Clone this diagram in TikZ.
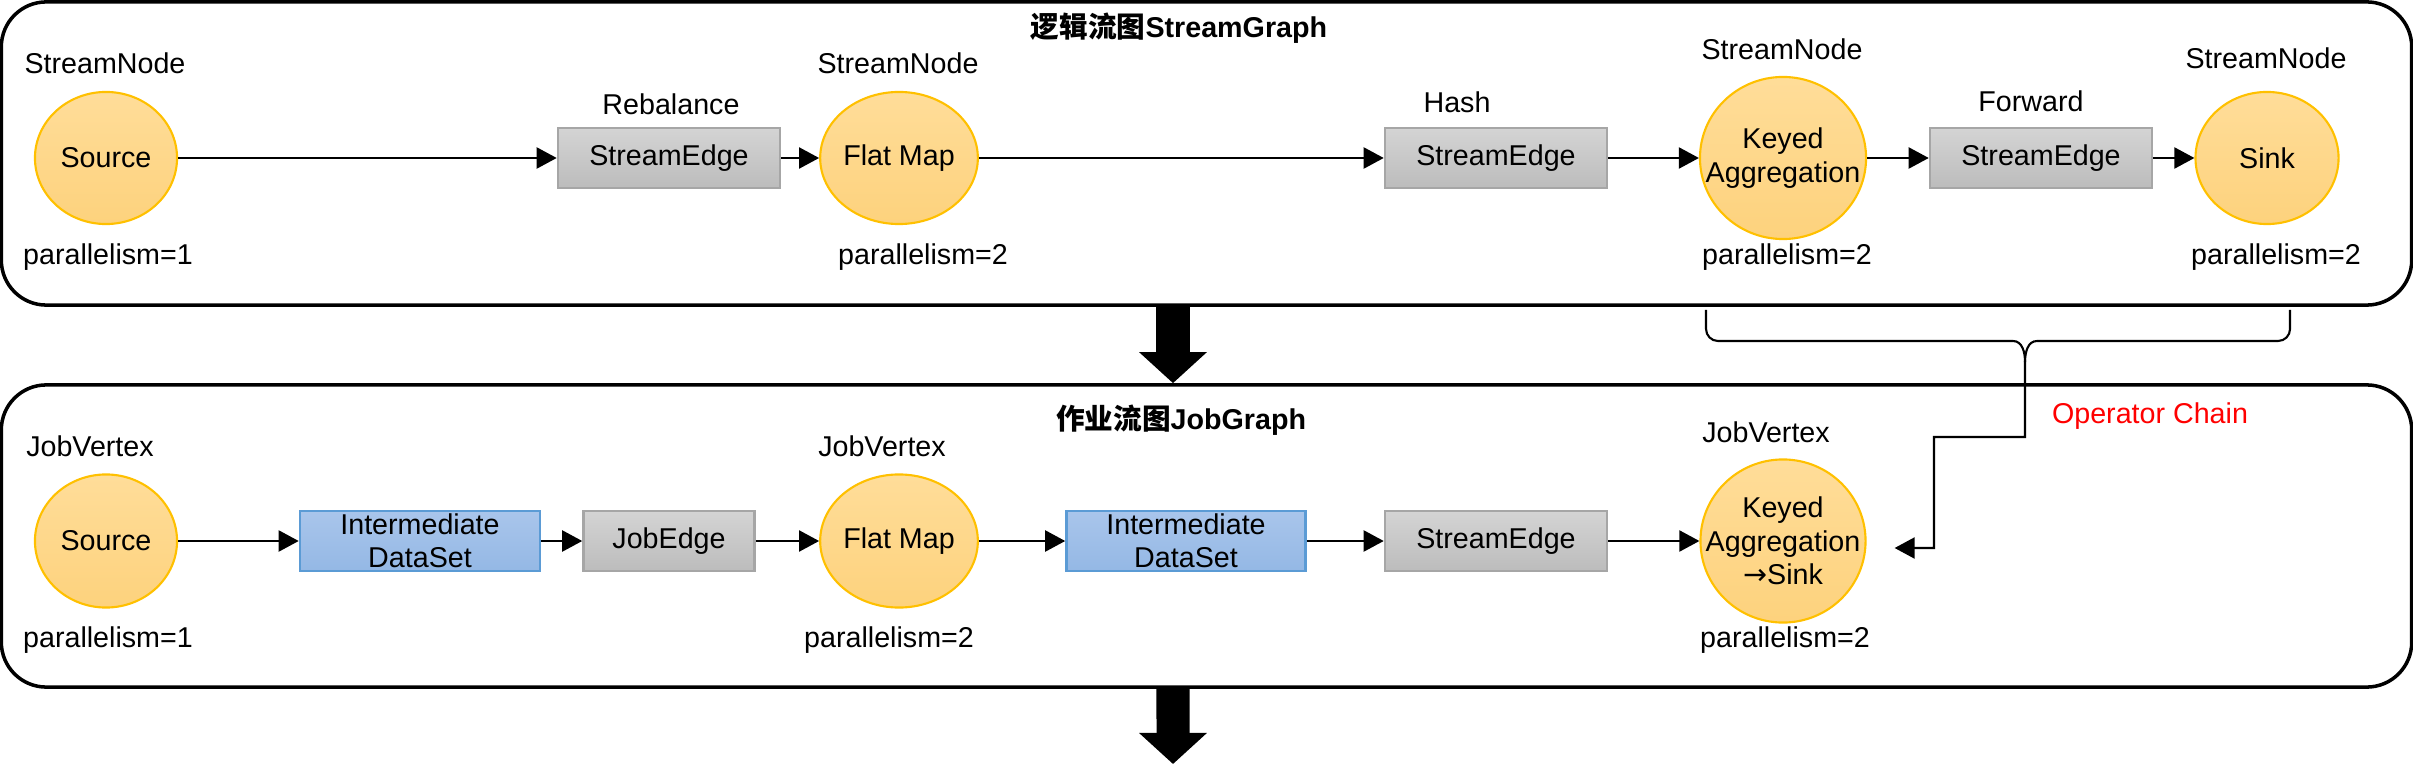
\documentclass[tikz,border=0pt]{standalone}
\usepackage{fontspec}
\setmainfont{Liberation Sans}
\newfontfamily\cjk{Noto Sans CJK SC}
\newfontfamily\arrowfont{DejaVu Sans}
\usetikzlibrary{arrows.meta,shapes.geometric}
\definecolor{opfill}{RGB}{255,221,153}
\definecolor{opfillb}{RGB}{253,210,125}
\definecolor{opdraw}{RGB}{255,192,0}
\definecolor{edgefill}{RGB}{212,212,212}
\definecolor{edgefillb}{RGB}{188,188,188}
\definecolor{edgedraw}{RGB}{166,166,166}
\definecolor{dsfill}{RGB}{169,197,235}
\definecolor{dsfillb}{RGB}{148,184,229}
\definecolor{dsdraw}{RGB}{91,155,213}
\begin{document}
\begin{tikzpicture}[x=0.01cm, y=-0.01cm, font=\fontsize{8.15}{9.5}\selectfont,
	opnode/.style={ellipse, draw=opdraw, line width=0.6pt, top color=opfill, bottom color=opfillb, inner sep=0pt, minimum width=1.42cm, minimum height=1.32cm, align=center},
	edgebox/.style={rectangle, draw=edgedraw, line width=0.7pt, top color=edgefill, bottom color=edgefillb, inner sep=0pt, minimum width=2.22cm, minimum height=0.6cm, align=center},
	dsbox/.style={edgebox, draw=dsdraw, top color=dsfill, bottom color=dsfillb, minimum width=2.4cm},
	graphbox/.style={draw, line width=1pt, rounded corners=0.45cm, inner sep=0pt, minimum width=24.09cm},
	flow/.style={-{Triangle[length=0.2cm,width=0.21cm]}, line width=0.6pt},
	bigarrow/.style={line width=0.33cm, -{Triangle[length=0.31cm,width=0.66cm]}},
	lbl/.style={inner sep=0pt}]
	\useasboundingbox (0,0) rectangle (2413,764);

	% Define the two graph frames
	\node[graphbox, minimum height=3.03cm] (streamgraph) at (1206.5,153.5) {};
	\node[graphbox, minimum height=3.02cm] (jobgraph) at (1206.5,536) {};
	\node[lbl] (t1) at (1179,28) {\bfseries{\cjk 逻辑流图}StreamGraph};
	\node[lbl] (t2) at (1181,420) {\bfseries{\cjk 作业流图}JobGraph};

	% Define the nodes of the StreamGraph
	\node[opnode] (src1) at (106,158) {Source};
	\node[edgebox] (se1) at (669,158) {StreamEdge};
	\node[opnode, minimum width=1.43cm] (fm1) at (899,158) {Flat Map};
	\node[edgebox] (se2) at (1496,158) {StreamEdge};
	\node[opnode, inner xsep=-0.22cm, minimum width=1.66cm, minimum height=1.62cm] (ka1) at (1783,158) {Keyed\\Aggregation};
	\node[edgebox] (se3) at (2041,158) {StreamEdge};
	\node[opnode, minimum width=1.43cm] (sk1) at (2267,158) {Sink};

	\node[lbl] (sn1) at (105,63) {StreamNode};
	\node[lbl] (sn2) at (898,63) {StreamNode};
	\node[lbl] (sn3) at (1782,49) {StreamNode};
	\node[lbl] (sn4) at (2266,58) {StreamNode};
	\node[lbl] (p1) at (108,257) {parallelism=1};
	\node[lbl] (p2) at (923,257) {parallelism=2};
	\node[lbl] (p3) at (1787,257) {parallelism=2};
	\node[lbl] (p4) at (2276,257) {parallelism=2};
	\node[lbl] (rebalance) at (671,104) {Rebalance};
	\node[lbl] (hash) at (1457,102) {Hash};
	\node[lbl] (forward) at (2031,101) {Forward};

	% Define the nodes of the JobGraph
	\node[opnode, minimum height=1.33cm] (src2) at (106,541) {Source};
	\node[dsbox] (ids1) at (420,541) {Intermediate\\DataSet};
	\node[edgebox, minimum width=1.71cm] (je) at (669,541) {JobEdge};
	\node[opnode, minimum width=1.43cm, minimum height=1.33cm] (fm2) at (899,541) {Flat Map};
	\node[dsbox, minimum width=2.39cm] (ids2) at (1186,541) {Intermediate\\DataSet};
	\node[edgebox] (se4) at (1496,541) {StreamEdge};
	\node[opnode, inner xsep=-0.22cm, minimum width=1.65cm, minimum height=1.63cm] (ka2) at (1783,541) {Keyed\\Aggregation\\{\arrowfont →}Sink};

	\node[lbl] (jv1) at (90,446) {JobVertex};
	\node[lbl] (jv2) at (882,446) {JobVertex};
	\node[lbl] (jv3) at (1766,432) {JobVertex};
	\node[lbl] (p5) at (108,640) {parallelism=1};
	\node[lbl] (p6) at (889,640) {parallelism=2};
	\node[lbl] (p7) at (1785,640) {parallelism=2};
	\node[lbl, text=red] (chain) at (2150,416) {Operator Chain};

	% Draw the edges
	\draw[flow] (src1) -- (se1);
	\draw[flow] (se1) -- (fm1);
	\draw[flow] (fm1) -- (se2);
	\draw[flow] (se2) -- (ka1);
	\draw[flow] (ka1) -- (se3);
	\draw[flow] (se3) -- (sk1);

	\draw[flow] (src2) -- (ids1);
	\draw[flow] (ids1) -- (je);
	\draw[flow] (je) -- (fm2);
	\draw[flow] (fm2) -- (ids2);
	\draw[flow] (ids2) -- (se4);
	\draw[flow] (se4) -- (ka2);

	% Operator chain brace
	\coordinate (chaintip) at (2025,362);
	\draw[line width=0.6pt] (1706,310) -- (1706,329) to[out=-90,in=180] (1718,341) -- (2013,341) to[out=0,in=90] (chaintip);
	\draw[line width=0.6pt] (2290,310) -- (2290,329) to[out=-90,in=0] (2278,341) -- (2037,341) to[out=180,in=90] (chaintip);
	\draw[flow] (chaintip) -- (2025,437) -| (1934,548) -- ([xshift=0.28cm,yshift=-0.07cm]ka2.east);

	% Big arrows between the graphs
	\coordinate (below) at (1173,764);
	\draw[bigarrow] ([xshift=-0.335cm]streamgraph.south) -- ([xshift=-0.335cm]jobgraph.north);
	\draw[bigarrow] ([xshift=-0.335cm]jobgraph.south) -- (below);
\end{tikzpicture}
\end{document}
